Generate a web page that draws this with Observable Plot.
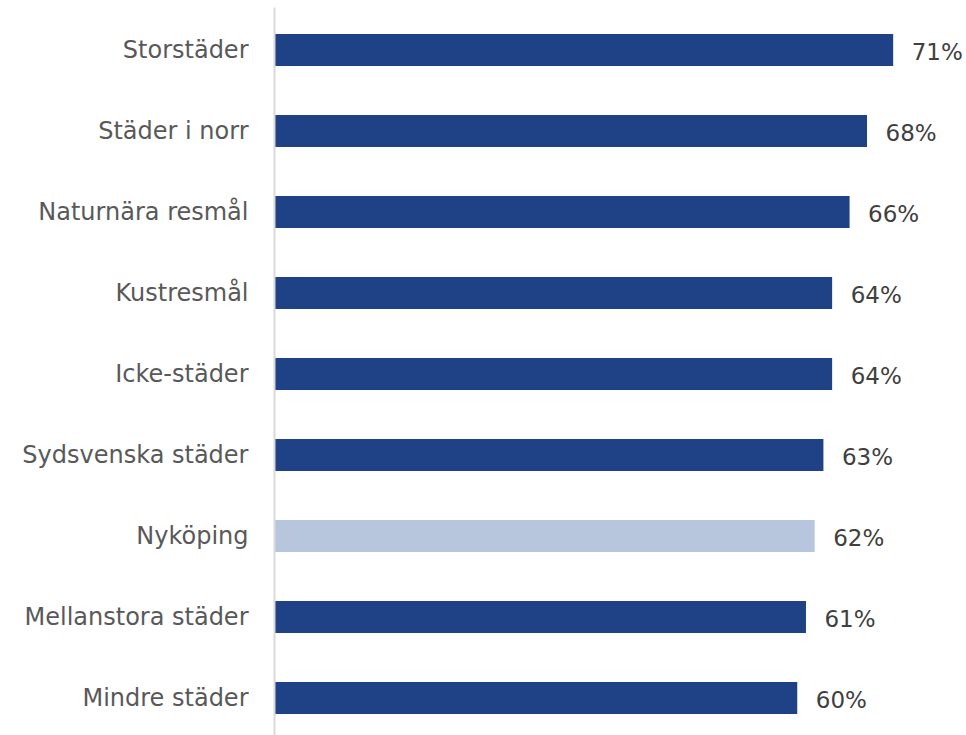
<!DOCTYPE html>
<html>
<head>
<meta charset="utf-8">
<script src="https://cdn.jsdelivr.net/npm/d3@7"></script>
<script src="https://cdn.jsdelivr.net/npm/@observablehq/plot@0.6"></script>
<style>
  html, body { margin: 0; padding: 0; background: #fff; }
  #chart svg { display: block; }
</style>
</head>
<body>
<div id="chart"></div>
<script>
const categories = ["Storstäder", "Städer i norr", "Naturnära resmål", "Kustresmål", "Icke-städer", "Sydsvenska städer", "Nyköping", "Mellanstora städer", "Mindre städer"];
const values = [71, 68, 66, 64, 64, 63, 62, 61, 60];
const highlight = "Nyköping";

const data = categories.map((c, i) => ({category: c, value: values[i], hl: c === highlight}));

const chart = Plot.plot({
  width: 966,
  height: 735,
  marginLeft: 274,
  marginRight: 0,
  marginTop: 8,
  marginBottom: 0,
  style: {fontFamily: "'DejaVu Sans', sans-serif", background: "#fff"},
  x: {domain: [0, 79.35], range: [274, 966], axis: null},
  y: {domain: categories, range: [8.6, 739.8], paddingInner: 0.6, paddingOuter: 0.3, label: null},
  marks: [
    Plot.barX(data, {x: "value", y: "category", fill: d => d.hl ? "#B8C6DD" : "#1F4185"}),
    Plot.frame({anchor: "left", stroke: "#D9D9D9", strokeWidth: 2}),
    Plot.axisY({tickSize: 0, tickPadding: 26, fontSize: 24, color: "#595959", label: null}),
    Plot.text(data, {x: "value", y: "category", text: d => d.value + "%", textAnchor: "start", dx: 18, dy: 2, fontSize: 23, fill: "#404040"})
  ]
});
document.getElementById("chart").append(chart);
</script>
</body>
</html>
